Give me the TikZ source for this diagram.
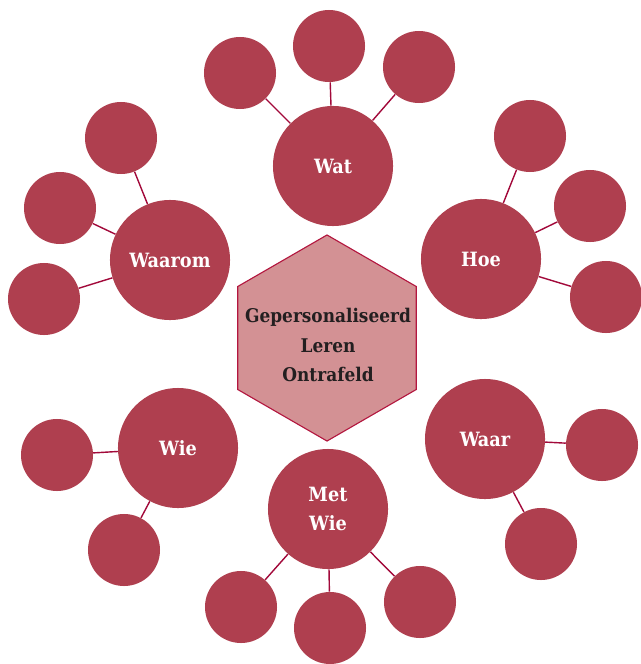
\documentclass[tikz,border=0pt]{standalone}
\usepackage{fontspec}
\setmainfont{DejaVu Serif Condensed}
\usetikzlibrary{shapes.geometric}
\definecolor{bubble}{HTML}{AF3F4F}
\definecolor{hexfill}{HTML}{D39194}
\definecolor{hexline}{HTML}{B3173F}
\definecolor{spoke}{HTML}{A2093A}
\definecolor{inktext}{HTML}{231F20}

\begin{document}
\begin{tikzpicture}[
        x=0.025cm, y=-0.025cm,
        topic/.style={circle, fill=bubble, minimum size=3cm, inner sep=0pt,
            font=\bfseries\fontsize{14}{20.5}\selectfont, text=white, align=center},
        leaf/.style={circle, fill=bubble, minimum size=1.8cm, inner sep=0pt},
        core/.style={regular polygon, regular polygon sides=6, shape border rotate=30,
            draw=hexline, fill=hexfill, line width=0.8pt, minimum size=5.15cm, inner sep=0pt},
        coretext/.style={font=\bfseries\fontsize{13.4}{21}\selectfont, text=inktext, align=center},
        link/.style={draw=spoke, line width=1pt},
        ]
        \useasboundingbox (0,0) rectangle (640,664);

        % Centre
        \node[core] (hub) at (327,338) {};
        \node[coretext] (hubtext) at (328,345) {Gepersonaliseerd\\Leren\\Ontrafeld};

        % Questions
        \node[topic] (wat) at (333,166) {Wat};
        \node[topic] (hoe) at (481,259) {Hoe};
        \node[topic] (waarom) at (170,260) {Waarom};
        \node[topic] (wie) at (178,448) {Wie};
        \node[topic] (waar) at (485,439) {Waar};
        \node[topic] (metwie) at (328,509) {Met\\Wie};

        % Leaves of Wat
        \node[leaf] (wat1) at (240,73) {};
        \node[leaf] (wat2) at (329,46) {};
        \node[leaf] (wat3) at (419,67) {};
        \draw[link] (wat) -- (wat1);
        \draw[link] (wat) -- (wat2);
        \draw[link] (wat) -- (wat3);

        % Leaves of Hoe
        \node[leaf] (hoe1) at (530,136) {};
        \node[leaf] (hoe2) at (590,206) {};
        \node[leaf] (hoe3) at (606,297) {};
        \draw[link] (hoe) -- (hoe1);
        \draw[link] (hoe) -- (hoe2);
        \draw[link] (hoe) -- (hoe3);

        % Leaves of Waarom
        \node[leaf] (waarom1) at (121,138) {};
        \node[leaf] (waarom2) at (60,208) {};
        \node[leaf] (waarom3) at (44,299) {};
        \draw[link] (waarom) -- (waarom1);
        \draw[link] (waarom) -- (waarom2);
        \draw[link] (waarom) -- (waarom3);

        % Leaves of Wie
        \node[leaf] (wie1) at (57,455) {};
        \node[leaf] (wie2) at (124,550) {};
        \draw[link] (wie) -- (wie1);
        \draw[link] (wie) -- (wie2);

        % Leaves of Waar
        \node[leaf] (waar1) at (602,445) {};
        \node[leaf] (waar2) at (541,544) {};
        \draw[link] (waar) -- (waar1);
        \draw[link] (waar) -- (waar2);

        % Leaves of Met Wie
        \node[leaf] (metwie1) at (241,607) {};
        \node[leaf] (metwie2) at (330,628) {};
        \node[leaf] (metwie3) at (420,602) {};
        \draw[link] (metwie) -- (metwie1);
        \draw[link] (metwie) -- (metwie2);
        \draw[link] (metwie) -- (metwie3);
    \end{tikzpicture}
\end{document}
